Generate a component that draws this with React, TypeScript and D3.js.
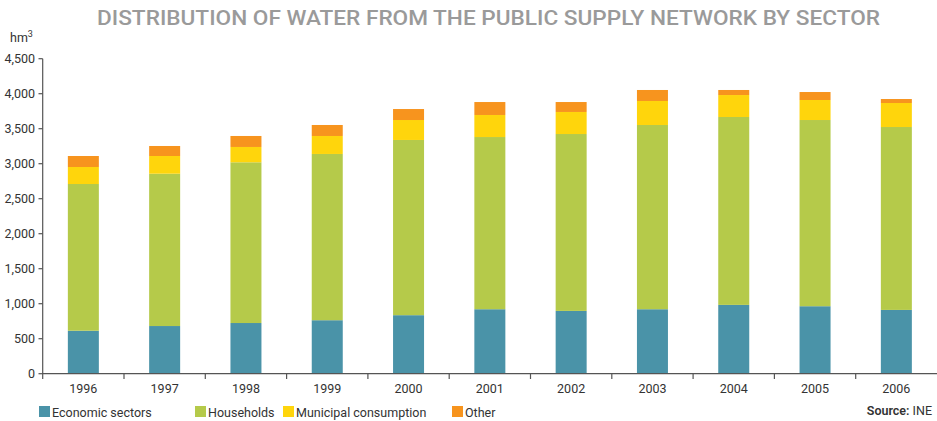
import React from "react";
import * as d3 from "d3";

const years = ["1996","1997","1998","1999","2000","2001","2002","2003","2004","2005","2006"];
const economic = [614, 681, 724, 764, 836, 921, 897, 921, 983, 964, 911];
const households = [2096, 2176, 2296, 2375, 2503, 2460, 2527, 2632, 2684, 2660, 2613];
const municipal = [243, 253, 219, 257, 285, 315, 315, 343, 314, 286, 343];
const other = [157, 143, 157, 157, 157, 185, 142, 157, 72, 114, 57];
const yTicks = [0, 500, 1000, 1500, 2000, 2500, 3000, 3500, 4000, 4500];
const seriesNames = ["Economic sectors", "Households", "Municipal consumption", "Other"];
const colors = ["#4a93a8", "#b5ca4a", "#ffd50c", "#f7941e"];

const W = 937, H = 421;
const FONT = "Roboto, 'DejaVu Sans', sans-serif";

export default function App() {
  const x = d3.scaleBand<string>().domain(years).range([42.7, 937]).padding(0);
  const y = d3.scaleLinear().domain([0, 4500]).range([373.7, 58.7]);
  const barW = 31;
  const rows = years.map((yr, i) => ({
    year: yr,
    economic: economic[i],
    households: households[i],
    municipal: municipal[i],
    other: other[i],
  }));
  const keys = ["economic", "households", "municipal", "other"];
  const stack = d3.stack<any>().keys(keys)(rows);
  const legendX = [39, 195, 283, 452];
  const fmt = d3.format(",");

  return (
    <svg width={W} height={H} style={{ position: "absolute", left: 0, top: 0, background: "#fff" }}>
      <text x={488.5} y={25} textAnchor="middle" fontFamily={FONT} fontSize={21} fontWeight={500}
        fill="#9a9a9a" textLength={783} lengthAdjust="spacingAndGlyphs">
        DISTRIBUTION OF WATER FROM THE PUBLIC SUPPLY NETWORK BY SECTOR
      </text>
      <text x={10} y={42} fontFamily={FONT} fontSize={12.5} fill="#333">
        hm<tspan dy={-5} fontSize={9}>3</tspan>
      </text>
      {stack.map((s, si) => (
        <g key={si}>
          {s.map((d, i) => (
            <rect key={i}
              x={(x(years[i]) as number) + (x.bandwidth() - barW) / 2}
              y={y(d[1])}
              width={barW}
              height={y(d[0]) - y(d[1])}
              fill={colors[si]} />
          ))}
        </g>
      ))}
      {/* y axis */}
      <line x1={42.7} x2={42.7} y1={58.7} y2={374} stroke="#555" strokeWidth={1.2} />
      {yTicks.map((t) => (
        <g key={t}>
          <line x1={38.5} x2={42.7} y1={y(t)} y2={y(t)} stroke="#555" strokeWidth={1.2} />
          <text x={35} y={y(t) + 4.5} textAnchor="end" fontFamily={FONT} fontSize={12.5} fill="#333">{fmt(t)}</text>
        </g>
      ))}
      {/* x axis */}
      <line x1={42.7} x2={937} y1={373.7} y2={373.7} stroke="#555" strokeWidth={1.2} />
      {years.map((yr) => (
        <g key={yr}>
          <line x1={x(yr) as number} x2={x(yr) as number} y1={373.7} y2={379} stroke="#555" strokeWidth={1.2} />
          <text x={(x(yr) as number) + x.bandwidth() / 2} y={392.5} textAnchor="middle" fontFamily={FONT} fontSize={12.5} fill="#333">{yr}</text>
        </g>
      ))}
      {/* legend */}
      {seriesNames.map((n, i) => (
        <g key={n}>
          <rect x={legendX[i]} y={406} width={11} height={11} fill={colors[i]} />
          <text x={legendX[i] + 13} y={416.5} fontFamily={FONT} fontSize={12.5} fill="#333">{n}</text>
        </g>
      ))}
      <text x={932} y={415} textAnchor="end" fontFamily={FONT} fontSize={12.5} fill="#333">
        <tspan fontWeight={600}>Source:</tspan> INE
      </text>
    </svg>
  );
}
